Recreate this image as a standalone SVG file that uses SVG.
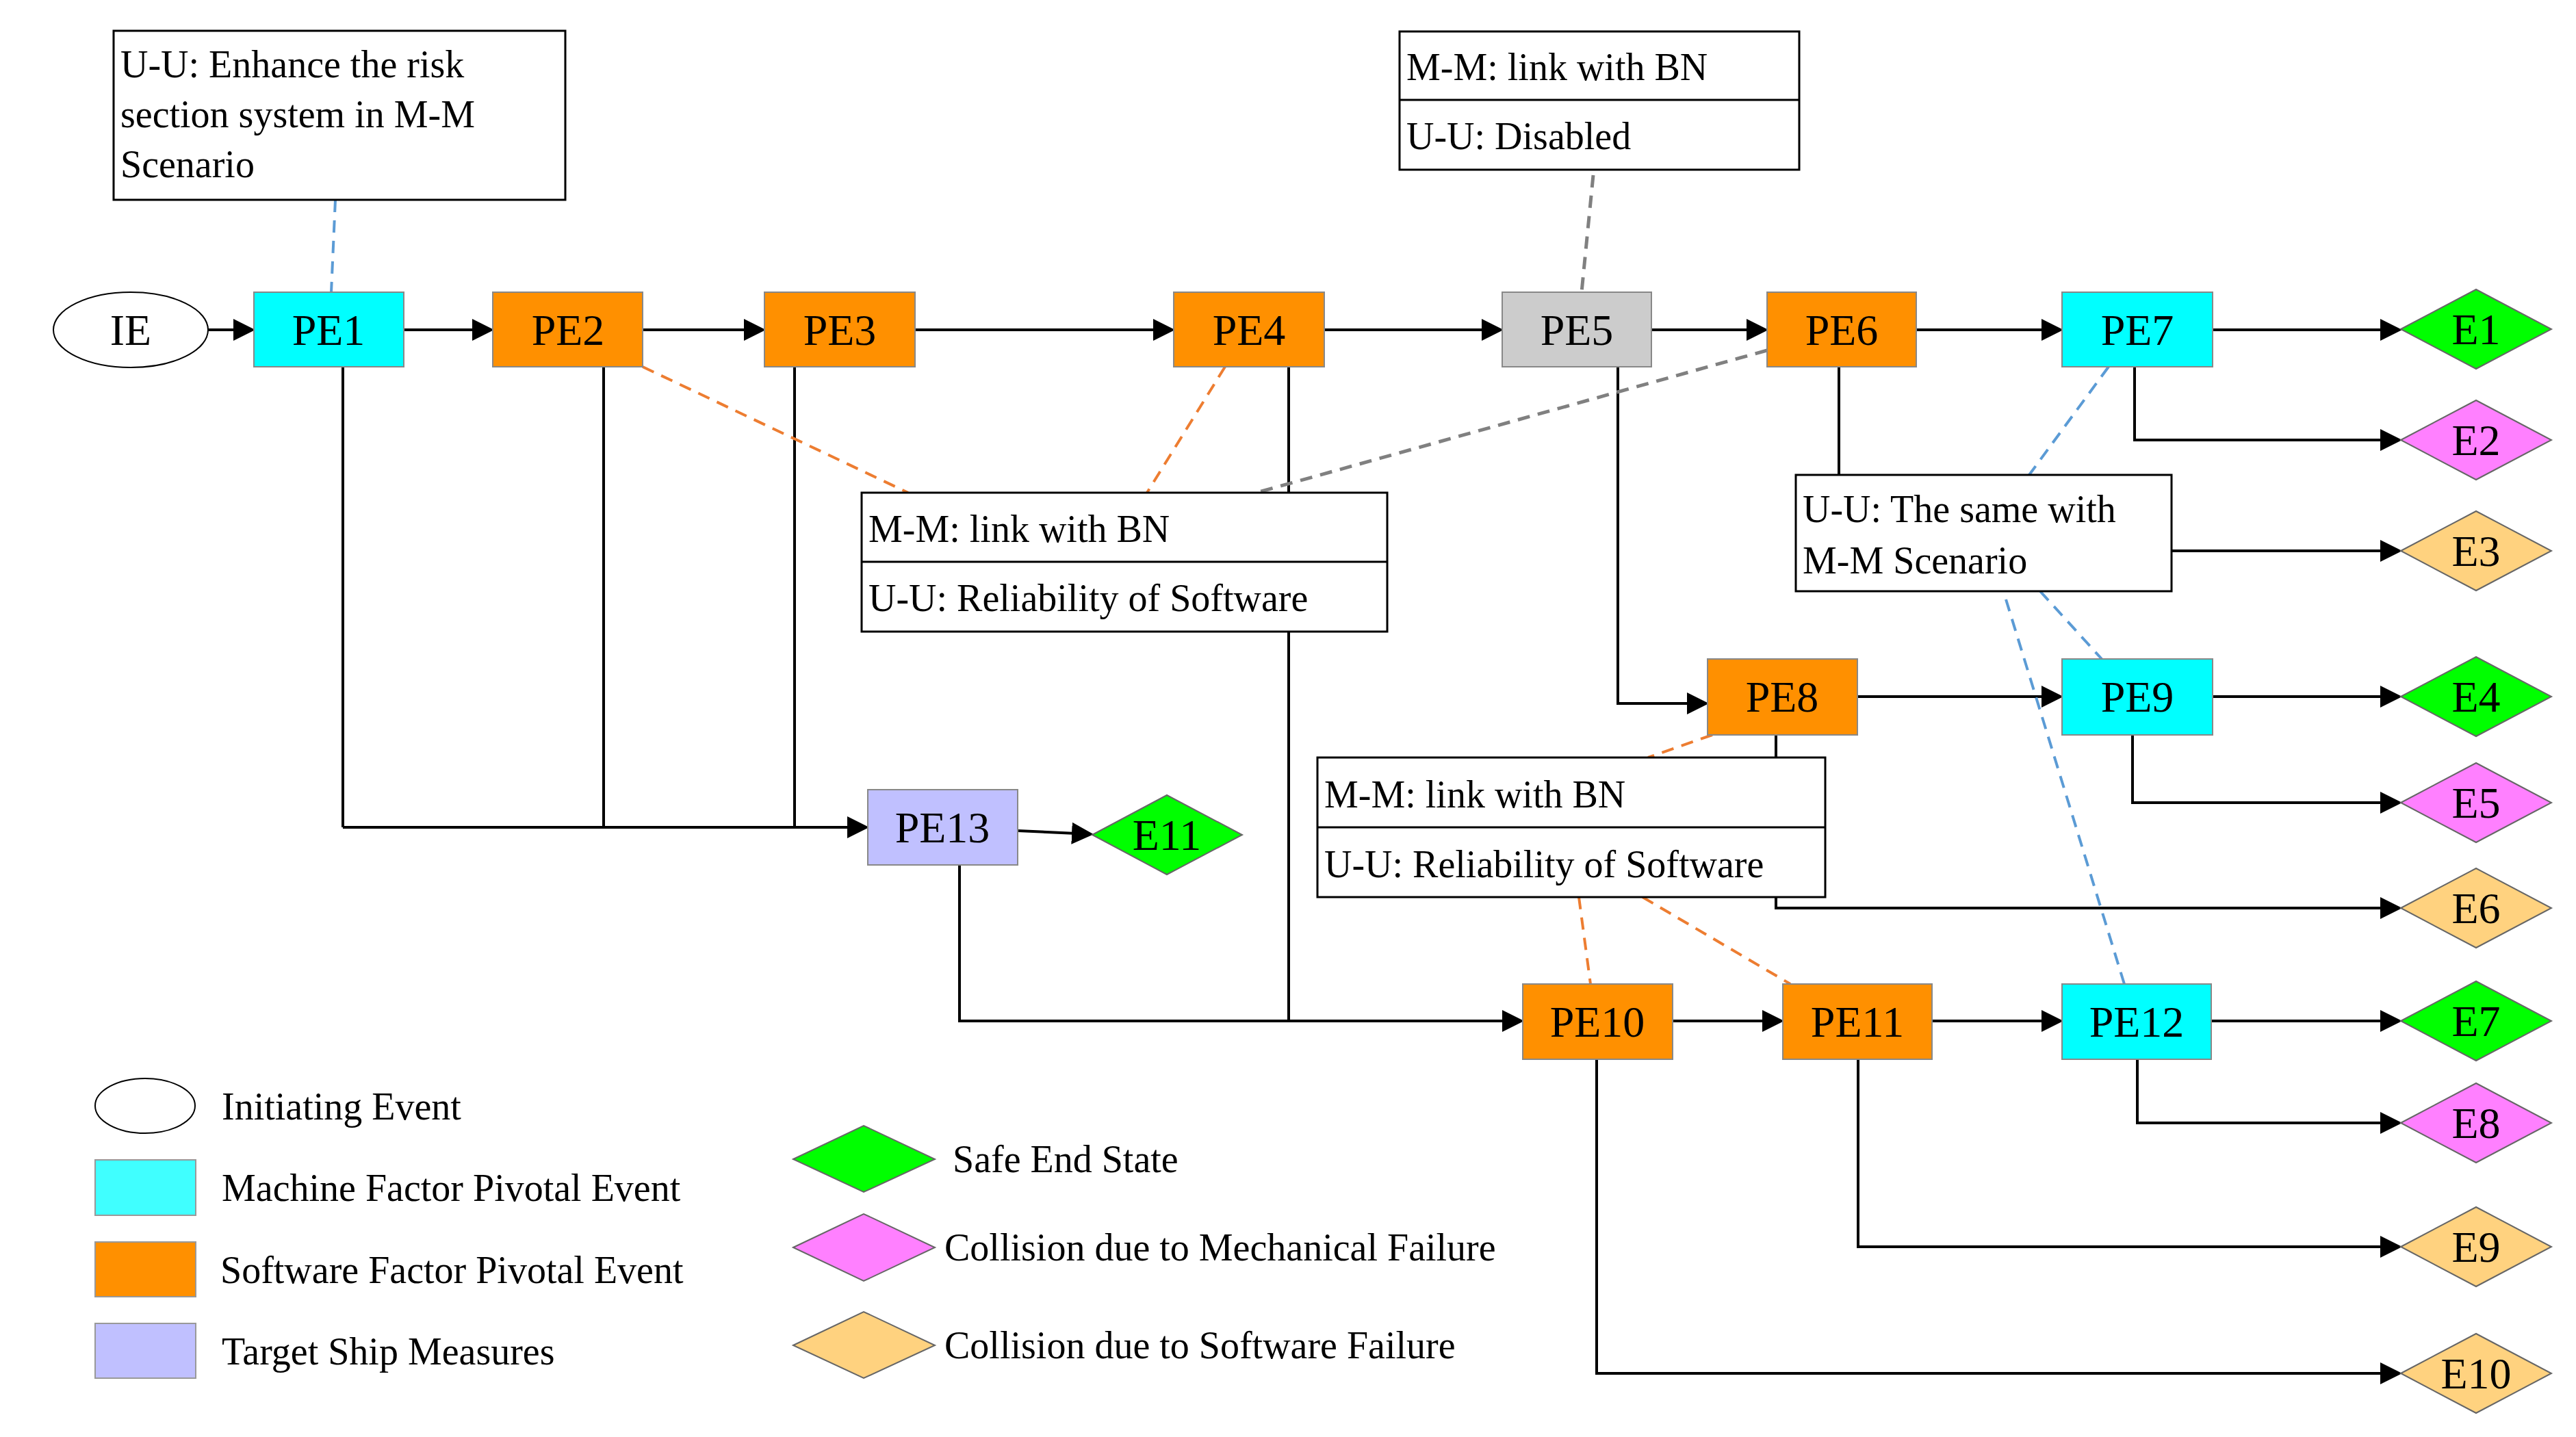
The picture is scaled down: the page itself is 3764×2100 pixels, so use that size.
<svg xmlns="http://www.w3.org/2000/svg" width="3764" height="2100" viewBox="0 0 3764 2100">
<style>
text{font-family:"Liberation Serif","Times New Roman",serif;fill:#000}
.lbl{font-size:64px;text-anchor:middle;dominant-baseline:central}
.nt{font-size:56px}
.box{stroke:#888;stroke-width:2}
.note{fill:#fff;stroke:#000;stroke-width:3}
.ln{fill:none;stroke:#000;stroke-width:4}
.ar{fill:none;stroke:#000;stroke-width:4;marker-end:url(#ah)}
.db{fill:none;stroke:#5b9bd5;stroke-width:4;stroke-dasharray:18 12}
.do{fill:none;stroke:#ed7d31;stroke-width:4;stroke-dasharray:18 12}
.dg{fill:none;stroke:#808080;stroke-width:5;stroke-dasharray:18 12}
.cy{fill:#00ffff}.or{fill:#ff9000}.gr{fill:#cccccc}.lv{fill:#c0c0ff}
.dia{stroke:#666;stroke-width:2}
.g{fill:#00ff00}.p{fill:#ff80ff}.y{fill:#ffd27f}
</style>
<defs>
<marker id="ah" markerWidth="8" markerHeight="8" refX="7" refY="4" orient="auto" markerUnits="strokeWidth"><path d="M0,0 L8,4 L0,8 Z" fill="#000"/></marker>
</defs>
<g id="connectors">
<line class="ar" x1="304" y1="482" x2="369" y2="482"/>
<line class="ar" x1="590" y1="482" x2="718" y2="482"/>
<line class="ar" x1="939" y1="482" x2="1115" y2="482"/>
<line class="ar" x1="1337" y1="482" x2="1713" y2="482"/>
<line class="ar" x1="1935" y1="482" x2="2193" y2="482"/>
<line class="ar" x1="2413" y1="482" x2="2580" y2="482"/>
<line class="ar" x1="2800" y1="482" x2="3011" y2="482"/>
<line class="ar" x1="3233" y1="482" x2="3506" y2="482"/>
<polyline class="ar" points="3119,536 3119,643 3506,643"/>
<line class="ln" x1="2687" y1="536" x2="2687" y2="694"/>
<line class="ar" x1="3173" y1="805" x2="3506" y2="805"/>
<polyline class="ar" points="2364,536 2364,1028 2493,1028"/>
<line class="ar" x1="2714" y1="1018" x2="3011" y2="1018"/>
<line class="ar" x1="3233" y1="1018" x2="3506" y2="1018"/>
<polyline class="ar" points="3116,1074 3116,1173 3506,1173"/>
<line class="ln" x1="2595" y1="1074" x2="2595" y2="1107"/>
<polyline class="ar" points="2595,1311 2595,1327 3506,1327"/>
<polyline class="ln" points="501,536 501,1209"/>
<polyline class="ln" points="882,536 882,1209"/>
<polyline class="ln" points="1161,536 1161,1209"/>
<line class="ar" x1="501" y1="1209" x2="1266" y2="1209"/>
<line class="ar" x1="1487" y1="1214" x2="1594" y2="1219"/>
<line class="ln" x1="1883" y1="536" x2="1883" y2="1492"/>
<polyline class="ar" points="1402,1264 1402,1492 2223,1492"/>
<line class="ar" x1="2444" y1="1492" x2="2603" y2="1492"/>
<line class="ar" x1="2823" y1="1492" x2="3011" y2="1492"/>
<line class="ar" x1="3231" y1="1492" x2="3506" y2="1492"/>
<polyline class="ar" points="3123,1548 3123,1641 3506,1641"/>
<polyline class="ar" points="2715,1548 2715,1822 3506,1822"/>
<polyline class="ar" points="2333,1548 2333,2007 3506,2007"/>
<line class="db" x1="490" y1="292" x2="484" y2="427"/>
<line class="dg" x1="2328" y1="256" x2="2311" y2="427"/>
<line class="do" x1="939" y1="536" x2="1327" y2="720"/>
<line class="do" x1="1790" y1="536" x2="1676" y2="720"/>
<line class="dg" x1="2582" y1="512" x2="1836" y2="720"/>
<line class="db" x1="3081" y1="536" x2="2965" y2="694"/>
<line class="db" x1="2981" y1="864" x2="3071" y2="963"/>
<line class="db" x1="2931" y1="876" x2="3104" y2="1438"/>
<line class="do" x1="2502" y1="1074" x2="2408" y2="1107"/>
<line class="do" x1="2307" y1="1311" x2="2324" y2="1438"/>
<line class="do" x1="2400" y1="1311" x2="2616" y2="1438"/>
</g>
<g id="IE"><ellipse cx="191" cy="482" rx="113" ry="55" fill="#fff" stroke="#000" stroke-width="2"/><text class="lbl" x="191" y="482">IE</text></g>
<g id="PE1"><rect class="box cy" x="371" y="427" width="219" height="109"/><text class="lbl" x="480" y="482">PE1</text></g>
<g id="PE2"><rect class="box or" x="720" y="427" width="219" height="109"/><text class="lbl" x="830" y="482">PE2</text></g>
<g id="PE3"><rect class="box or" x="1117" y="427" width="220" height="109"/><text class="lbl" x="1227" y="482">PE3</text></g>
<g id="PE4"><rect class="box or" x="1715" y="427" width="220" height="109"/><text class="lbl" x="1825" y="482">PE4</text></g>
<g id="PE5"><rect class="box gr" x="2195" y="427" width="218" height="109"/><text class="lbl" x="2304" y="482">PE5</text></g>
<g id="PE6"><rect class="box or" x="2582" y="427" width="218" height="109"/><text class="lbl" x="2691" y="482">PE6</text></g>
<g id="PE7"><rect class="box cy" x="3013" y="427" width="220" height="109"/><text class="lbl" x="3123" y="482">PE7</text></g>
<g id="PE8"><rect class="box or" x="2495" y="963" width="219" height="111"/><text class="lbl" x="2604" y="1018">PE8</text></g>
<g id="PE9"><rect class="box cy" x="3013" y="963" width="220" height="111"/><text class="lbl" x="3123" y="1018">PE9</text></g>
<g id="PE10"><rect class="box or" x="2225" y="1438" width="219" height="110"/><text class="lbl" x="2334" y="1493">PE10</text></g>
<g id="PE11"><rect class="box or" x="2605" y="1438" width="218" height="110"/><text class="lbl" x="2714" y="1493">PE11</text></g>
<g id="PE12"><rect class="box cy" x="3013" y="1438" width="218" height="110"/><text class="lbl" x="3122" y="1493">PE12</text></g>
<g id="PE13"><rect class="box lv" x="1268" y="1154" width="219" height="110"/><text class="lbl" x="1377" y="1209">PE13</text></g>
<g id="E1"><polygon class="dia g" points="3508,481 3618,423 3728,481 3618,539"/><text class="lbl" x="3618" y="481">E1</text></g>
<g id="E2"><polygon class="dia p" points="3508,643 3618,585 3728,643 3618,701"/><text class="lbl" x="3618" y="643">E2</text></g>
<g id="E3"><polygon class="dia y" points="3508,805 3618,747 3728,805 3618,863"/><text class="lbl" x="3618" y="805">E3</text></g>
<g id="E4"><polygon class="dia g" points="3508,1018 3618,960 3728,1018 3618,1076"/><text class="lbl" x="3618" y="1018">E4</text></g>
<g id="E5"><polygon class="dia p" points="3508,1173 3618,1115 3728,1173 3618,1231"/><text class="lbl" x="3618" y="1173">E5</text></g>
<g id="E6"><polygon class="dia y" points="3508,1327 3618,1269 3728,1327 3618,1385"/><text class="lbl" x="3618" y="1327">E6</text></g>
<g id="E7"><polygon class="dia g" points="3508,1492 3618,1434 3728,1492 3618,1550"/><text class="lbl" x="3618" y="1492">E7</text></g>
<g id="E8"><polygon class="dia p" points="3508,1641 3618,1583 3728,1641 3618,1699"/><text class="lbl" x="3618" y="1641">E8</text></g>
<g id="E9"><polygon class="dia y" points="3508,1822 3618,1764 3728,1822 3618,1880"/><text class="lbl" x="3618" y="1822">E9</text></g>
<g id="E10"><polygon class="dia y" points="3508,2007 3618,1949 3728,2007 3618,2065"/><text class="lbl" x="3618" y="2007">E10</text></g>
<g id="E11"><polygon class="dia g" points="1596,1220 1705,1162 1815,1220 1705,1278"/><text class="lbl" x="1705" y="1220">E11</text></g>
<g id="note1"><rect class="note" x="166" y="45" width="660" height="247"/><text class="nt" x="176" y="113">U-U: Enhance the risk</text><text class="nt" x="176" y="186">section system in M-M</text><text class="nt" x="176" y="259">Scenario</text></g>
<g id="note2"><rect class="note" x="2045" y="46" width="584" height="202"/><line x1="2045" y1="146" x2="2629" y2="146" stroke="#000" stroke-width="3"/><text class="nt" x="2055" y="117">M-M: link with BN</text><text class="nt" x="2055" y="218">U-U: Disabled</text></g>
<g id="note3"><rect class="note" x="2624" y="694" width="549" height="170"/><text class="nt" x="2634" y="763">U-U: The same with</text><text class="nt" x="2634" y="838">M-M Scenario</text></g>
<g id="note4"><rect class="note" x="1259" y="720" width="768" height="203"/><line x1="1259" y1="821" x2="2027" y2="821" stroke="#000" stroke-width="3"/><text class="nt" x="1269" y="792">M-M: link with BN</text><text class="nt" x="1269" y="893">U-U: Reliability of Software</text></g>
<g id="note5"><rect class="note" x="1925" y="1107" width="742" height="204"/><line x1="1925" y1="1209" x2="2667" y2="1209" stroke="#000" stroke-width="3"/><text class="nt" x="1935" y="1180">M-M: link with BN</text><text class="nt" x="1935" y="1282">U-U: Reliability of Software</text></g>
<g id="legend">
<ellipse cx="212" cy="1616" rx="73" ry="40" fill="#fff" stroke="#000" stroke-width="2"/><text class="nt" x="324" y="1636">Initiating Event</text>
<rect x="139" y="1695" width="147" height="81" fill="#40ffff" stroke="#999" stroke-width="2"/><text class="nt" x="324" y="1755">Machine Factor Pivotal Event</text>
<rect x="139" y="1815" width="147" height="80" fill="#ff9000" stroke="#999" stroke-width="2"/><text class="nt" x="322" y="1875">Software Factor Pivotal Event</text>
<rect x="139" y="1934" width="147" height="80" fill="#c0c0ff" stroke="#999" stroke-width="2"/><text class="nt" x="324" y="1994">Target Ship Measures</text>
<polygon class="dia g" points="1159,1694 1262,1645 1366,1694 1262,1742"/><text class="nt" x="1392" y="1713">Safe End State</text>
<polygon class="dia p" points="1159,1823 1262,1774 1366,1823 1262,1872"/><text class="nt" x="1380" y="1842">Collision due to Mechanical Failure</text>
<polygon class="dia y" points="1159,1966 1262,1917 1366,1966 1262,2014"/><text class="nt" x="1380" y="1985">Collision due to Software Failure</text>
</g>
</svg>
